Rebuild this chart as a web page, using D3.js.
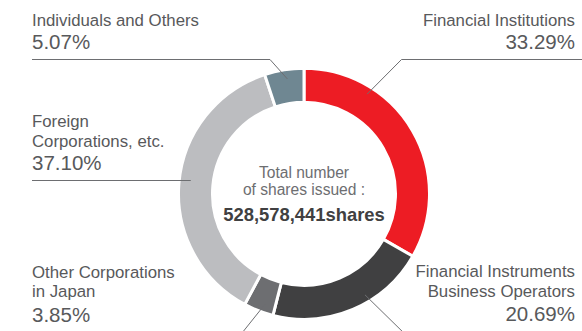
<!DOCTYPE html>
<html>
<head>
<meta charset="utf-8">
<script src="https://cdn.jsdelivr.net/npm/d3@7/dist/d3.min.js"></script>
<style>
  html, body { margin: 0; padding: 0; background: #fff; }
  svg { display: block; font-family: "Liberation Sans", Arial, Helvetica, sans-serif; }
</style>
</head>
<body>
<svg id="chart" width="582" height="331"></svg>
<script>
// Shareholder composition (percent of shares issued), clockwise from 12 o'clock
const categories = [
  "Financial Institutions",
  "Financial Instruments Business Operators",
  "Other Corporations in Japan",
  "Foreign Corporations, etc.",
  "Individuals and Others"
];
const shares = [33.29, 20.69, 3.85, 37.10, 5.07];
const shareLabels = ["33.29%", "20.69%", "3.85%", "37.10%", "5.07%"];
const nameLines = [
  ["Financial Institutions"],
  ["Financial Instruments", "Business Operators"],
  ["Other Corporations", "in Japan"],
  ["Foreign", "Corporations, etc."],
  ["Individuals and Others"]
];
const centerLines = ["Total number", "of shares issued :"];
const totalShares = "528,578,441shares";

const colors = ["#ed1c24", "#404041", "#6d6e71", "#bcbdc0", "#6f8792"];

const W = 582, H = 331;
const cx = 304, cy = 193.8;
const rOuter = 125.5, rInner = 91.5;

const svg = d3.select("#chart");

const pie = d3.pie().sort(null).value(d => d)(shares);
const arc = d3.arc().innerRadius(rInner).outerRadius(rOuter);

const g = svg.append("g").attr("transform", `translate(${cx},${cy})`);

g.selectAll("path.slice")
  .data(pie)
  .join("path")
  .attr("class", "slice")
  .attr("d", arc)
  .attr("fill", (d, i) => colors[i])
  .attr("stroke", "#fff")
  .attr("stroke-width", 3)
  .attr("stroke-linejoin", "miter");

// Point on the ring at a fraction of a slice's angular span
function ringPoint(i, frac, r) {
  const p = pie[i];
  const a = p.startAngle + (p.endAngle - p.startAngle) * frac;
  return [cx + r * Math.sin(a), cy - r * Math.cos(a)];
}
// Point on the left side of the ring at a given height
function ringLeftAt(y, r) {
  return [cx - Math.sqrt(r * r - (cy - y) * (cy - y)), y];
}

// Label layout: text anchor, baselines and leader polylines
const labelLayout = [
  { x: 575, anchor: "end",   nameY: [26],         pctY: 49,    line: i => [[W, 59.5], [401.5, 59.5], ringPoint(i, 0.27, 118)] },
  { x: 575, anchor: "end",   nameY: [277, 296.5], pctY: 321,   line: i => [ringPoint(i, 0.39, 118), [408, 337]] },
  { x: 32,  anchor: "start", nameY: [278, 297],   pctY: 321.5, line: i => [ringPoint(i, 0.38, 118), [238, 338]] },
  { x: 32,  anchor: "start", nameY: [127, 146.5], pctY: 170,   line: i => [[32, 180.5], ringLeftAt(180.5, 114)] },
  { x: 32,  anchor: "start", nameY: [26],         pctY: 49,    line: i => [[32, 59.5], [270, 59.5], ringPoint(i, 0.55, 116)] }
];

const lineGen = d3.line();
const labels = svg.append("g");

categories.forEach((c, i) => {
  const L = labelLayout[i];
  labels.append("path")
    .attr("d", lineGen(L.line(i)))
    .attr("fill", "none")
    .attr("stroke", "#6d6e71")
    .attr("stroke-width", 1);

  nameLines[i].forEach((t, j) => {
    labels.append("text")
      .attr("x", L.x).attr("y", L.nameY[j])
      .attr("text-anchor", L.anchor)
      .attr("font-size", 16.8)
      .attr("fill", "#58595b")
      .text(t);
  });
  labels.append("text")
    .attr("x", L.x).attr("y", L.pctY)
    .attr("text-anchor", L.anchor)
    .attr("font-size", 20.5)
    .attr("fill", "#58595b")
    .text(shareLabels[i]);
});

// Centre caption
const center = svg.append("g").attr("text-anchor", "middle");
center.append("text").attr("x", cx).attr("y", 178.3)
  .attr("font-size", 15.6).attr("fill", "#6d6e71").text(centerLines[0]);
center.append("text").attr("x", cx).attr("y", 195)
  .attr("font-size", 15.6).attr("fill", "#6d6e71").text(centerLines[1]);
center.append("text").attr("x", cx).attr("y", 221)
  .attr("font-size", 18.4).attr("font-weight", "bold").attr("fill", "#404041").text(totalShares);
</script>
</body>
</html>
